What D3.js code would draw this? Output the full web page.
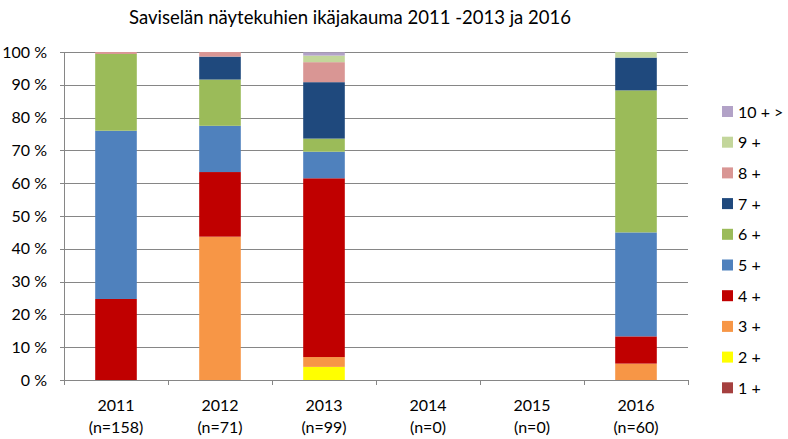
<!DOCTYPE html>
<html>
<head>
<meta charset="utf-8">
<script src="https://cdn.jsdelivr.net/npm/d3@7"></script>
<style>
  body { margin: 0; background: #fff; }
  text { font-family: Lato, "Open Sans", sans-serif; fill: #000; }
</style>
</head>
<body>
<svg width="788" height="439"></svg>
<script>
// years and sample sizes
var years = ['2011', '2012', '2013', '2014', '2015', '2016'];
var counts = ['(n=158)', '(n=71)', '(n=99)', '(n=0)', '(n=0)', '(n=60)'];
var ageLabels = ['1 +', '2 +', '3 +', '4 +', '5 +', '6 +', '7 +', '8 +', '9 +', '10 + >'];
var ageColors = ['#A5403F', '#FFFF00', '#F79646', '#C00000', '#4F81BD', '#9BBB59', '#1F497D', '#D99694', '#C3D69B', '#B2A2C7'];
var yTicks = [0, 10, 20, 30, 40, 50, 60, 70, 80, 90, 100];

// percent share per age class, one value per year
var age1 = [0, 0, 0, 0, 0, 0];
var age2 = [0, 0, 4.0, 0, 0, 0];
var age3 = [0, 43.7, 3.0, 0, 0, 5.0];
var age4 = [24.7, 19.7, 54.5, 0, 0, 8.3];
var age5 = [51.3, 14.1, 8.1, 0, 0, 31.7];
var age6 = [23.4, 14.1, 4.0, 0, 0, 43.3];
var age7 = [0, 7.0, 17.2, 0, 0, 10.0];
var age8 = [0.6, 1.4, 6.1, 0, 0, 0];
var age9 = [0, 0, 2.0, 0, 0, 1.7];
var age10 = [0, 0, 1.0, 0, 0, 0];
var series = [age1, age2, age3, age4, age5, age6, age7, age8, age9, age10];

var svg = d3.select('svg');
var plotLeft = 64, plotRight = 688, plotTop = 52, plotBottom = 380;

// build table for stack
var table = years.map(function (y, i) {
    var row = { year: y };
    series.forEach(function (s, k) { row['a' + k] = s[i]; });
    return row;
});
var keys = series.map(function (s, k) { return 'a' + k; });
var stacked = d3.stack().keys(keys)(table);

var xScale = d3.scaleBand().domain(years).range([plotLeft, plotRight]).paddingInner(0.6).paddingOuter(0.3);
var xBand = d3.scaleBand().domain(years).range([plotLeft, plotRight]);
var yScale = d3.scaleLinear().domain([0, 100]).range([plotBottom, plotTop]);

// title
svg.append('text')
    .attr('x', 350).attr('y', 24)
    .attr('text-anchor', 'middle')
    .attr('font-size', '18.5px')
    .text('Saviselän näytekuhien ikäjakauma 2011 -2013 ja 2016');

// grid lines
var g = svg.append('g');
g.selectAll('.grid')
    .data(yTicks)
    .enter().append('line')
    .attr('x1', plotLeft - 4).attr('x2', plotRight)
    .attr('y1', function (d) { return Math.round(yScale(d)) + 0.5; })
    .attr('y2', function (d) { return Math.round(yScale(d)) + 0.5; })
    .attr('stroke', '#868686').attr('stroke-width', 1);

g.selectAll('.ylab')
    .data(yTicks)
    .enter().append('text')
    .attr('x', 47)
    .attr('y', function (d) { return yScale(d) + 5.5; })
    .attr('text-anchor', 'end')
    .attr('font-size', '16px')
    .text(function (d) { return d + ' %'; });

// y axis line
g.append('line')
    .attr('x1', plotLeft + 0.5).attr('x2', plotLeft + 0.5)
    .attr('y1', plotTop).attr('y2', plotBottom)
    .attr('stroke', '#868686');

// x tick marks at band boundaries
var bounds = years.map(function (y) { return xBand(y); }).concat([plotRight]);
g.selectAll('.xtick')
    .data(bounds)
    .enter().append('line')
    .attr('x1', function (d) { return Math.round(d) + 0.5; })
    .attr('x2', function (d) { return Math.round(d) + 0.5; })
    .attr('y1', plotBottom).attr('y2', plotBottom + 5)
    .attr('stroke', '#868686');

// bars
var layers = svg.selectAll('.layer')
    .data(stacked)
    .enter().append('g')
    .attr('fill', function (d, i) { return ageColors[i]; });

layers.selectAll('rect')
    .data(function (d) { return d; })
    .enter().append('rect')
    .attr('x', function (d) { return xScale(d.data.year); })
    .attr('width', xScale.bandwidth())
    .attr('y', function (d) { return yScale(d[1]); })
    .attr('height', function (d) { return yScale(d[0]) - yScale(d[1]); });

// x labels
var xl = svg.append('g');
xl.selectAll('.yr')
    .data(years)
    .enter().append('text')
    .attr('x', function (d) { return xBand(d) + xBand.bandwidth() / 2; })
    .attr('y', 411)
    .attr('text-anchor', 'middle')
    .attr('font-size', '16px')
    .text(function (d) { return d; });
xl.selectAll('.cnt')
    .data(counts)
    .enter().append('text')
    .attr('x', function (d, i) { return xBand(years[i]) + xBand.bandwidth() / 2; })
    .attr('y', 433)
    .attr('text-anchor', 'middle')
    .attr('font-size', '16px')
    .text(function (d) { return d; });

// legend, top = 10+
var legendOrder = ageLabels.map(function (l, i) { return i; }).reverse();
var leg = svg.append('g');
var items = leg.selectAll('.item')
    .data(legendOrder)
    .enter().append('g')
    .attr('transform', function (d, j) { return 'translate(722,' + (112 + j * 30.7) + ')'; });
items.append('rect')
    .attr('x', 0).attr('y', -6)
    .attr('width', 11).attr('height', 11)
    .attr('fill', function (d) { return ageColors[d]; });
items.append('text')
    .attr('x', 16).attr('y', 5.5)
    .attr('font-size', '16px')
    .text(function (d) { return ageLabels[d]; });
</script>
</body>
</html>
